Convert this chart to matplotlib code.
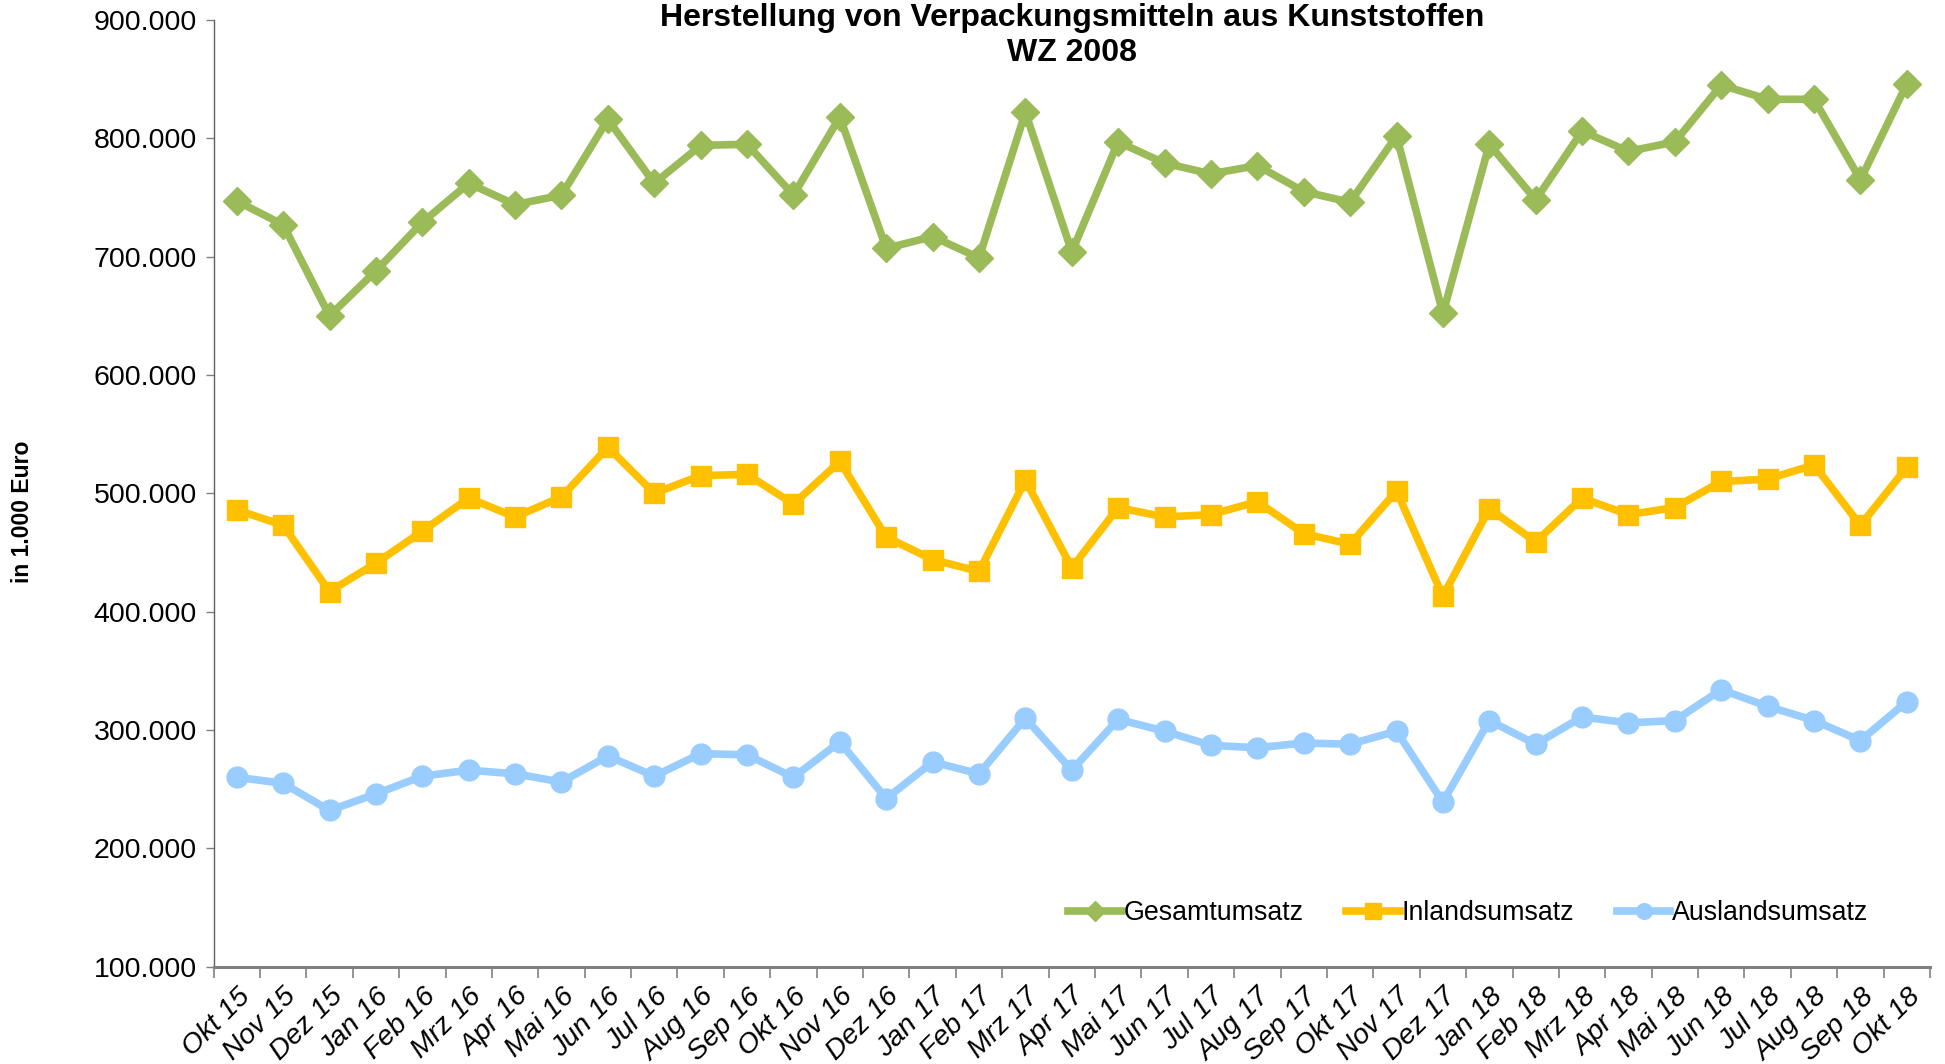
import matplotlib
matplotlib.use("Agg")
import matplotlib.pyplot as plt
from matplotlib.ticker import FuncFormatter, FixedLocator
import numpy as np

plt.rcParams['font.family'] = ['Liberation Sans', 'DejaVu Sans']

months = ["Okt 15", "Nov 15", "Dez 15", "Jan 16", "Feb 16", "Mrz 16", "Apr 16", "Mai 16",
          "Jun 16", "Jul 16", "Aug 16", "Sep 16", "Okt 16", "Nov 16", "Dez 16", "Jan 17",
          "Feb 17", "Mrz 17", "Apr 17", "Mai 17", "Jun 17", "Jul 17", "Aug 17", "Sep 17",
          "Okt 17", "Nov 17", "Dez 17", "Jan 18", "Feb 18", "Mrz 18", "Apr 18", "Mai 18",
          "Jun 18", "Jul 18", "Aug 18", "Sep 18", "Okt 18"]

gesamt = [747000, 727000, 650000, 688000, 729000, 762000, 744000, 752000,
          816000, 762000, 794000, 795000, 752000, 818000, 707000, 717000,
          699000, 822000, 704000, 797000, 779000, 770000, 777000, 755000,
          746000, 802000, 652000, 795000, 748000, 806000, 789000, 797000,
          845000, 833000, 833000, 765000, 846000]

inland = [486000, 473000, 417000, 441000, 468000, 496000, 480000, 497000,
          539000, 500000, 515000, 516000, 491000, 527000, 463000, 444000,
          434000, 511000, 437000, 488000, 480000, 482000, 493000, 466000,
          457000, 502000, 413000, 487000, 459000, 496000, 482000, 488000,
          510000, 512000, 524000, 473000, 522000]

ausland = [260000, 255000, 232000, 246000, 261000, 266000, 263000, 256000,
           278000, 261000, 280000, 279000, 260000, 290000, 242000, 273000,
           263000, 310000, 266000, 309000, 299000, 287000, 285000, 289000,
           288000, 299000, 239000, 308000, 288000, 311000, 306000, 308000,
           334000, 320000, 308000, 291000, 324000]

series_names = ["Gesamtumsatz", "Inlandsumsatz", "Auslandsumsatz"]
title_text = "Herstellung von Verpackungsmitteln aus Kunststoffen\nWZ 2008"
ylabel_text = "in 1.000 Euro"

fig = plt.figure(figsize=(19.45, 10.64), dpi=100)
ax = fig.add_axes([0.1098, 0.0915, 0.9923 - 0.1098, 0.9812 - 0.0915])

x = np.arange(len(months))
ax.plot(x, gesamt, color="#9BBB59", lw=5.5, marker="D", markersize=14, label=series_names[0])
ax.plot(x, inland, color="#FFC000", lw=5.5, marker="s", markersize=15, label=series_names[1])
ax.plot(x, ausland, color="#99CCFF", lw=5.5, marker="o", markersize=15, label=series_names[2])

ax.set_xlim(-0.5, len(months) - 0.5)
ax.set_ylim(100000, 900000)
ax.set_yticks(np.arange(100000, 900001, 100000))
ax.yaxis.set_major_formatter(FuncFormatter(lambda v, p: f"{int(v):,}".replace(",", ".")))

ax.set_xticks(x)
ax.set_xticklabels(months, rotation=45, ha="right", rotation_mode="anchor",
                   fontsize=20.5, style="italic")
ax.xaxis.set_minor_locator(FixedLocator(np.arange(-0.5, len(months), 1.0)))
ax.tick_params(axis="x", which="major", length=0, pad=12)
ax.tick_params(axis="x", which="minor", length=8, width=1.2, color="#808080")
ax.tick_params(axis="y", labelsize=20.5, length=6, width=1, color="#808080", pad=6)

for s in ["top", "right"]:
    ax.spines[s].set_visible(False)
ax.spines["left"].set_color("#606060")
ax.spines["left"].set_linewidth(1)
ax.spines["bottom"].set_color("#808080")
ax.spines["bottom"].set_linewidth(2.2)

fig.text(0.0115, 0.519, ylabel_text, rotation=90, fontsize=16.5, fontweight="bold",
         ha="center", va="center")

fig.text(0.5512, 0.997, title_text, ha="center", va="top",
         fontsize=23, fontweight="bold", linespacing=1.22)

ax.legend(loc="lower right", bbox_to_anchor=(0.978, 0.017), ncol=3, frameon=False,
          fontsize=19.3, handlelength=2.0, handletextpad=0.05, columnspacing=1.6,
          markerscale=0.75)

fig.savefig("out.png", dpi=100)
